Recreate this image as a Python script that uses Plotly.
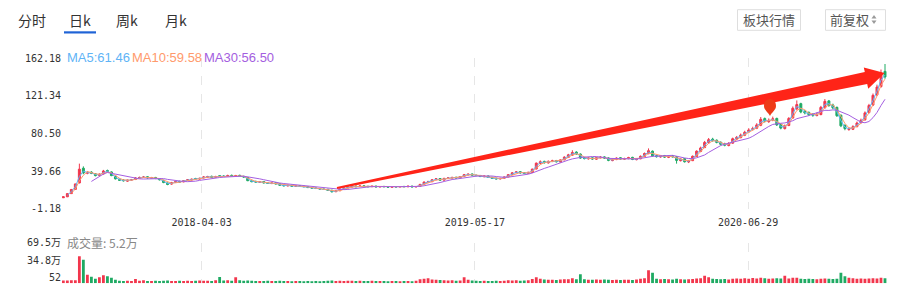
import pandas as pd
import plotly.graph_objects as go

# ---------------- data ----------------
START = "2017-09-08"
STEP_DAYS = 6

OPEN = [
    11.0, 12.0, 15.5, 20.0, 27.0, 43.0, 37.5, 38.8, 37.0, 35.2,
    36.8, 40.5, 39.0, 34.5, 31.0, 30.2, 29.0, 30.2, 30.8, 32.2,
    33.0, 33.8, 32.2, 33.0, 31.8, 30.0, 27.0, 25.8, 27.8, 28.8,
    28.2, 29.8, 30.2, 31.8, 31.2, 32.5, 33.2, 34.2, 33.2, 34.8,
    34.6, 34.2, 35.2, 34.3, 35.3, 34.2, 33.0, 29.2, 28.8, 27.8,
    28.6, 27.2, 26.4, 27.2, 26.2, 24.8, 23.8, 24.6, 23.4, 24.1,
    23.6, 23.2, 21.8, 21.6, 20.8, 20.4, 20.2, 19.2, 17.6, 18.6,
    20.8, 21.6, 22.6, 23.6, 23.1, 23.9, 23.4, 23.0, 23.6, 22.7,
    23.3, 23.1, 22.4, 23.1, 22.7, 23.3, 22.9, 23.6, 22.7, 23.3,
    25.6, 28.2, 28.4, 30.6, 31.8, 30.1, 31.8, 32.4, 33.2, 32.4,
    34.2, 35.8, 36.8, 35.4, 35.2, 33.8, 34.6, 33.2, 32.2, 31.4,
    32.1, 33.6, 36.2, 38.2, 39.3, 38.2, 37.4, 38.4, 42.2, 48.2,
    50.4, 48.8, 50.3, 51.4, 49.8, 52.2, 54.8, 57.2, 60.5, 58.4,
    54.4, 53.2, 54.3, 52.8, 54.3, 55.3, 54.2, 51.3, 52.4, 54.4,
    52.8, 53.4, 54.8, 52.3, 53.2, 55.8, 58.8, 61.5, 56.8, 55.2,
    56.8, 54.8, 56.3, 55.4, 51.2, 53.4, 49.8, 51.2, 55.8, 61.2,
    65.4, 70.6, 74.5, 73.4, 71.2, 69.4, 67.6, 70.2, 74.6, 76.2,
    78.8, 82.5, 85.0, 86.4, 89.6, 96.8, 93.5, 95.4, 97.0, 90.5,
    86.0, 89.4, 97.5, 107.5, 113.0, 104.5, 103.5, 101.4, 100.2, 101.2,
    108.6, 116.0, 111.5, 109.0, 100.5, 89.5, 85.0, 85.2, 88.2, 92.4,
    95.5, 103.4, 111.5, 122.5, 131.5, 148.0,
]

HIGH = [
    12.2, 15.6, 20.1, 26.2, 48.0, 45.0, 40.0, 39.8, 37.8, 37.4,
    41.2, 41.5, 39.6, 35.2, 31.8, 31.0, 30.8, 31.4, 33.4, 33.9,
    34.6, 34.4, 33.6, 33.6, 32.4, 30.4, 27.4, 28.2, 29.2, 29.4,
    30.2, 31.2, 31.8, 32.6, 32.8, 34.4, 34.8, 35.0, 34.8, 35.6,
    35.4, 36.0, 36.2, 35.8, 36.0, 34.8, 33.4, 29.8, 29.4, 29.2,
    29.0, 27.8, 27.6, 27.6, 26.6, 25.2, 25.0, 25.0, 24.6, 24.6,
    24.0, 23.6, 22.4, 22.0, 21.3, 20.9, 20.6, 19.5, 19.0, 21.0,
    22.0, 23.0, 24.0, 24.2, 24.3, 24.4, 23.9, 24.0, 24.0, 23.7,
    23.8, 23.5, 23.5, 23.6, 23.7, 23.8, 24.0, 24.0, 23.7, 26.0,
    28.6, 29.4, 31.2, 32.4, 32.2, 32.6, 33.4, 33.8, 33.8, 34.6,
    36.8, 37.4, 37.2, 36.0, 35.6, 35.2, 35.0, 33.6, 32.6, 32.6,
    34.0, 36.6, 38.8, 40.0, 39.8, 38.8, 39.2, 42.6, 49.2, 51.5,
    51.2, 51.4, 52.2, 52.0, 52.8, 56.0, 58.6, 62.5, 61.4, 59.0,
    55.2, 55.0, 55.0, 55.4, 56.2, 56.0, 54.8, 53.4, 54.8, 55.0,
    54.4, 55.4, 55.4, 54.0, 56.8, 60.0, 64.5, 62.2, 57.6, 57.4,
    57.4, 57.0, 57.2, 55.8, 54.0, 54.0, 52.0, 56.8, 62.4, 66.4,
    72.6, 75.8, 76.0, 74.2, 72.0, 70.6, 71.2, 76.2, 78.0, 80.6,
    83.6, 86.4, 88.0, 91.8, 98.5, 98.0, 97.0, 99.0, 97.8, 91.4,
    90.4, 98.4, 110.0, 116.5, 114.0, 106.2, 104.6, 102.8, 103.4, 110.6,
    118.0, 117.0, 113.0, 109.8, 101.2, 90.6, 87.4, 89.6, 93.6, 96.8,
    104.6, 112.8, 124.0, 133.6, 150.0, 156.0,
]

LOW = [
    10.8, 11.9, 15.4, 19.9, 26.8, 36.5, 36.5, 36.6, 34.2, 34.6,
    36.2, 38.6, 34.4, 30.8, 29.2, 28.6, 28.4, 29.6, 30.2, 31.6,
    32.4, 31.8, 31.6, 31.2, 29.8, 26.8, 24.6, 25.2, 27.2, 27.4,
    27.8, 29.2, 29.8, 30.8, 30.6, 32.0, 32.6, 32.4, 32.6, 33.8,
    33.4, 33.6, 33.8, 33.8, 33.8, 32.8, 29.0, 27.8, 27.4, 27.2,
    26.6, 26.0, 25.8, 25.6, 24.0, 23.4, 23.4, 23.0, 23.0, 23.0,
    22.5, 21.6, 21.0, 20.5, 20.0, 19.5, 18.5, 16.6, 17.0, 18.2,
    20.4, 21.2, 22.2, 22.6, 22.7, 23.0, 22.6, 22.6, 22.4, 22.3,
    22.5, 22.1, 22.0, 22.3, 22.3, 22.5, 22.5, 22.4, 22.3, 23.0,
    25.2, 27.6, 28.0, 30.0, 29.4, 29.8, 31.2, 31.8, 31.8, 32.0,
    33.8, 35.2, 34.8, 34.4, 33.4, 33.2, 32.6, 31.4, 30.8, 30.9,
    31.8, 33.2, 35.8, 37.6, 37.2, 36.8, 36.8, 38.0, 41.8, 47.2,
    48.0, 48.0, 49.6, 49.2, 49.2, 51.6, 54.2, 56.6, 57.6, 53.2,
    52.6, 52.4, 52.2, 52.2, 53.6, 53.2, 50.6, 50.6, 51.8, 52.2,
    52.2, 52.8, 51.8, 51.6, 52.8, 55.2, 58.2, 55.6, 54.6, 54.6,
    54.2, 54.0, 54.6, 48.0, 50.4, 49.2, 48.6, 50.8, 55.2, 60.4,
    64.8, 69.6, 71.8, 70.0, 67.8, 66.8, 66.8, 69.6, 73.6, 75.4,
    77.8, 81.4, 83.8, 85.4, 88.6, 92.6, 92.2, 94.0, 88.8, 85.2,
    85.0, 88.6, 96.6, 106.0, 102.6, 101.4, 99.6, 98.8, 99.2, 100.4,
    107.6, 109.6, 107.0, 98.6, 87.6, 84.2, 83.6, 84.4, 87.2, 91.4,
    94.6, 102.2, 110.4, 121.4, 130.4, 140.0,
]

CLOSE = [
    12.0, 15.5, 20.0, 26.0, 42.0, 38.0, 38.5, 37.5, 35.0, 36.5,
    40.0, 39.5, 35.0, 31.5, 30.0, 29.5, 30.0, 30.5, 32.5, 33.0,
    33.5, 32.5, 32.8, 32.0, 30.5, 27.5, 25.5, 27.5, 28.5, 28.0,
    29.5, 30.5, 31.0, 31.5, 32.0, 33.5, 34.0, 33.0, 34.0, 34.5,
    34.0, 35.0, 34.5, 35.0, 34.5, 33.5, 29.5, 28.5, 28.0, 28.5,
    27.0, 26.5, 27.0, 26.0, 24.5, 24.0, 24.5, 23.5, 24.0, 23.5,
    23.0, 22.0, 21.5, 21.0, 20.5, 20.0, 19.0, 17.5, 18.5, 20.5,
    21.5, 22.5, 23.5, 23.0, 23.8, 23.5, 23.0, 23.5, 22.8, 23.2,
    23.0, 22.5, 23.0, 22.8, 23.2, 23.0, 23.5, 22.8, 23.2, 25.5,
    28.0, 28.5, 30.5, 31.5, 30.0, 32.0, 32.5, 33.0, 32.5, 34.0,
    36.0, 36.5, 35.5, 35.0, 34.0, 34.5, 33.0, 32.0, 31.5, 32.0,
    33.5, 36.0, 38.0, 39.0, 38.0, 37.5, 38.5, 42.0, 48.5, 50.0,
    49.0, 50.5, 51.0, 50.0, 52.0, 55.0, 57.5, 60.0, 58.5, 54.0,
    53.5, 54.0, 53.0, 54.5, 55.0, 54.0, 51.5, 52.5, 54.0, 53.0,
    53.5, 54.5, 52.5, 53.0, 56.0, 59.0, 62.0, 56.5, 55.5, 56.5,
    55.0, 56.0, 55.5, 51.5, 53.0, 50.0, 51.0, 56.0, 61.5, 65.0,
    71.0, 74.0, 73.0, 71.0, 69.0, 68.0, 70.0, 75.0, 76.5, 79.0,
    82.0, 84.5, 86.0, 90.0, 96.0, 94.0, 95.0, 96.5, 90.0, 86.5,
    89.0, 97.0, 108.0, 112.0, 104.0, 103.0, 101.0, 100.5, 101.5, 109.0,
    115.5, 111.0, 108.5, 100.0, 89.0, 86.0, 85.5, 88.0, 92.0, 95.0,
    103.0, 111.0, 122.0, 131.0, 146.0, 142.0,
]

VOLUME = [
    55000, 55000, 60000, 60000, 536000, 470000, 170000, 130000, 90000, 120000,
    160000, 140000, 110000, 70000, 50000, 45000, 50000, 45000, 85000, 50000,
    60000, 45000, 45000, 50000, 45000, 50000, 55000, 45000, 45000, 50000,
    45000, 50000, 45000, 50000, 55000, 50000, 50000, 45000, 60000, 125000,
    55000, 60000, 50000, 120000, 60000, 50000, 55000, 50000, 45000, 45000,
    45000, 50000, 45000, 45000, 50000, 45000, 45000, 40000, 45000, 45000,
    40000, 45000, 40000, 45000, 40000, 45000, 50000, 55000, 45000, 50000,
    45000, 50000, 50000, 45000, 50000, 45000, 45000, 50000, 45000, 45000,
    45000, 40000, 45000, 45000, 40000, 45000, 45000, 40000, 50000, 80000,
    90000, 100000, 75000, 70000, 65000, 60000, 55000, 60000, 50000, 55000,
    120000, 70000, 55000, 50000, 45000, 50000, 45000, 45000, 50000, 45000,
    50000, 60000, 55000, 60000, 50000, 55000, 60000, 85000, 120000, 90000,
    75000, 70000, 70000, 65000, 75000, 80000, 80000, 100000, 80000, 180000,
    80000, 70000, 70000, 75000, 70000, 75000, 70000, 65000, 70000, 65000,
    70000, 70000, 65000, 75000, 90000, 100000, 260000, 210000, 90000, 80000,
    85000, 80000, 75000, 90000, 80000, 75000, 80000, 85000, 95000, 100000,
    150000, 120000, 90000, 85000, 80000, 85000, 75000, 90000, 95000, 90000,
    100000, 90000, 105000, 95000, 110000, 100000, 90000, 95000, 100000, 95000,
    150000, 95000, 110000, 110000, 90000, 85000, 90000, 85000, 80000, 90000,
    95000, 90000, 85000, 90000, 210000, 140000, 110000, 100000, 90000, 95000,
    90000, 95000, 100000, 95000, 110000, 100000,
]

TICK_DATES = ["2018-04-03", "2019-05-17", "2020-06-29"]
PRICE_TICKS = [-1.18, 39.66, 80.50, 121.34, 162.18]
PRICE_TICK_TEXT = ["-1.18", "39.66", "80.50", "121.34", "162.18"]
VOL_TICKS = [52, 348000, 695000]
VOL_TICK_TEXT = ["52", "34.8万", "69.5万"]
MA_WINDOWS = [2, 3, 8]          # candle windows for the MA5 / MA10 / MA30 lines
MA_LABELS = ["MA5:61.46", "MA10:59.58", "MA30:56.50"]
VOL_LABEL = "成交量: 5.2万"
TABS = ["分时", "日k", "周k", "月k"]
BUTTONS = ["板块行情", "前复权"]

assert len(OPEN) == len(HIGH) == len(LOW) == len(CLOSE) == len(VOLUME)

# ---------------- styles ----------------
W, H = 898, 288
ML, MR = 62, 11
PW = W - ML - MR
UP, DOWN = "#f2364c", "#1faa63"
MA_COLORS = ["#5fb4f6", "#ff9a6c", "#a45ee0"]
TICK_FONT = dict(family="DejaVu Sans Mono, Noto Sans CJK SC", size=10, color="#333")

# pixel geometry of panels
PRICE_BOTTOM, PRICE_TOP = 209.0, 58.3
VOL_BOTTOM, VOL_TOP = 283.3, 242.7
VOL_PX_PER_UNIT = 35.0 / 695000          # bar scale
VOL_LABEL_OFFSET = 5.6                   # labels sit 5.6 px above bar base


def px(xp):
    return (xp - ML) / PW


def py(yp):
    return 1 - yp / H


dates = pd.date_range(START, periods=len(CLOSE), freq=f"{STEP_DAYS}D")
close_s = pd.Series(CLOSE)

fig = go.Figure()
fig.add_trace(go.Candlestick(
    x=dates, open=OPEN, high=HIGH, low=LOW, close=CLOSE,
    increasing=dict(line=dict(color=UP, width=1), fillcolor=UP),
    decreasing=dict(line=dict(color=DOWN, width=1), fillcolor=DOWN),
    whiskerwidth=0, xaxis="x", yaxis="y", showlegend=False, hoverinfo="skip",
))
for w, c in zip(MA_WINDOWS, MA_COLORS):
    fig.add_trace(go.Scatter(
        x=dates, y=close_s.rolling(w).mean(), mode="lines",
        line=dict(color=c, width=1), xaxis="x", yaxis="y",
        showlegend=False, hoverinfo="skip",
    ))
vol_colors = [UP if c >= o else DOWN for o, c in zip(OPEN, CLOSE)]
fig.add_trace(go.Bar(
    x=dates, y=VOLUME, marker=dict(color=vol_colors, line=dict(width=0)),
    xaxis="x2", yaxis="y2", showlegend=False, hoverinfo="skip",
))
# invisible helper so the volume label axis renders
fig.add_trace(go.Scatter(
    x=[dates[0]], y=[VOL_TICKS[0]], mode="markers", marker=dict(opacity=0),
    xaxis="x2", yaxis="y3", showlegend=False, hoverinfo="skip",
))

vol_span = (VOL_BOTTOM - VOL_TOP)
vol_range2 = [0, vol_span / VOL_PX_PER_UNIT]
units_px = (VOL_TICKS[-1] - VOL_TICKS[0]) / (vol_span - VOL_LABEL_OFFSET)
vol_range3 = [VOL_TICKS[0] - VOL_LABEL_OFFSET * units_px, VOL_TICKS[-1]]

xcommon = dict(
    type="date", range=["2017-09-06", "2021-01-23"],
    tickmode="array", tickvals=TICK_DATES, ticktext=TICK_DATES,
    showgrid=True, gridcolor="#e6e6e6", griddash="dash", gridwidth=1,
    zeroline=False, showline=False, automargin=False,
)
fig.update_layout(
    template="none",
    width=W, height=H,
    margin=dict(l=ML, r=MR, t=0, b=0, autoexpand=False),
    paper_bgcolor="white", plot_bgcolor="white",
    bargap=0.3,
    xaxis=dict(**xcommon, domain=[0, 1], anchor="y", tickfont=TICK_FONT,
               ticks="outside", ticklen=4, tickcolor="rgba(0,0,0,0)",
               rangeslider=dict(visible=False)),
    xaxis2=dict(**xcommon, domain=[0, 1], anchor="y2", matches="x",
                showticklabels=False, ticks=""),
    yaxis=dict(domain=[py(PRICE_BOTTOM), py(PRICE_TOP)], range=[-1.19, 162.19],
               tickmode="array", tickvals=PRICE_TICKS, ticktext=PRICE_TICK_TEXT,
               showgrid=False, zeroline=False, showline=False, ticks="",
               tickfont=TICK_FONT, automargin=False),
    yaxis2=dict(domain=[py(VOL_BOTTOM), py(VOL_TOP)], range=vol_range2,
                showticklabels=False, showgrid=False, zeroline=False,
                showline=False, ticks="", automargin=False),
    yaxis3=dict(overlaying="y2", anchor="x2", side="left", range=vol_range3,
                tickmode="array", tickvals=VOL_TICKS, ticktext=VOL_TICK_TEXT,
                showgrid=False, zeroline=False, showline=False, ticks="",
                tickfont=TICK_FONT, automargin=False),
)

shapes = []
annotations = []

# tabs
tab_x = [32, 80, 127, 176]
for t, x in zip(TABS, tab_x):
    annotations.append(dict(text=t, x=px(x), y=py(20), xref="paper", yref="paper",
                            showarrow=False, xanchor="center", yanchor="middle",
                            font=dict(family="Noto Sans CJK SC", size=14, color="#333")))
shapes.append(dict(type="rect", xref="paper", yref="paper",
                   x0=px(64), x1=px(96), y0=py(33.5), y1=py(31.3),
                   fillcolor="#1f63d6", line=dict(width=0)))

# buttons
for (x0, x1), txt, tx in zip([(737.5, 800.5), (825.5, 885.5)], BUTTONS, [769, 849]):
    shapes.append(dict(type="rect", xref="paper", yref="paper",
                       x0=px(x0), x1=px(x1), y0=py(30.3), y1=py(9.7),
                       fillcolor="white", line=dict(color="#dedede", width=1)))
    annotations.append(dict(text=txt, x=px(tx), y=py(20), xref="paper", yref="paper",
                            showarrow=False, xanchor="center", yanchor="middle",
                            font=dict(family="Noto Sans CJK SC", size=13, color="#555")))
# sort arrows
shapes.append(dict(type="path", xref="paper", yref="paper", fillcolor="#9a9a9a",
                   line=dict(width=0),
                   path=f"M {px(871.5)},{py(18.5)} L {px(876.5)},{py(18.5)} L {px(874)},{py(15)} Z"))
shapes.append(dict(type="path", xref="paper", yref="paper", fillcolor="#9a9a9a",
                   line=dict(width=0),
                   path=f"M {px(871.5)},{py(20.5)} L {px(876.5)},{py(20.5)} L {px(874)},{py(24)} Z"))

# MA legend
for txt, x, c in zip(MA_LABELS, [65, 130, 202], MA_COLORS):
    annotations.append(dict(text=txt, x=px(x), y=py(57.8), xref="paper", yref="paper",
                            showarrow=False, xanchor="left", yanchor="middle",
                            font=dict(family="Liberation Sans", size=13, color=c)))
# volume label
annotations.append(dict(text=VOL_LABEL, x=px(65), y=py(242.7), xref="paper", yref="paper",
                        showarrow=False, xanchor="left", yanchor="middle",
                        font=dict(family="Noto Sans CJK SC", size=12, color="#888")))

# red hand-drawn arrow
pts = [(336.8, 187.0), (864.8, 72.1), (863.8, 67.4), (884.6, 73.0),
       (868.2, 88.8), (867.2, 83.9), (337.2, 189.0)]
path = "M " + " L ".join(f"{px(a)},{py(b)}" for a, b in pts) + " Z"
shapes.append(dict(type="path", xref="paper", yref="paper", path=path,
                   fillcolor="#ff2418", line=dict(width=0)))
# teardrop marker
d = [(770, 116), (768, 112), (764, 110), (764, 106), (764, 101), (767, 99), (770, 99),
     (773, 99), (776, 101), (776, 106), (776, 110), (772, 112), (770, 116)]
dp = f"M {px(d[0][0])},{py(d[0][1])}"
for k in range(1, len(d), 3):
    dp += " C " + " ".join(f"{px(a)},{py(b)}" for a, b in d[k:k + 3])
dp += " Z"
shapes.append(dict(type="path", xref="paper", yref="paper", path=dp,
                   fillcolor="#ee3a18", line=dict(width=0)))

fig.update_layout(shapes=shapes, annotations=annotations)
fig.write_html("out.html")
